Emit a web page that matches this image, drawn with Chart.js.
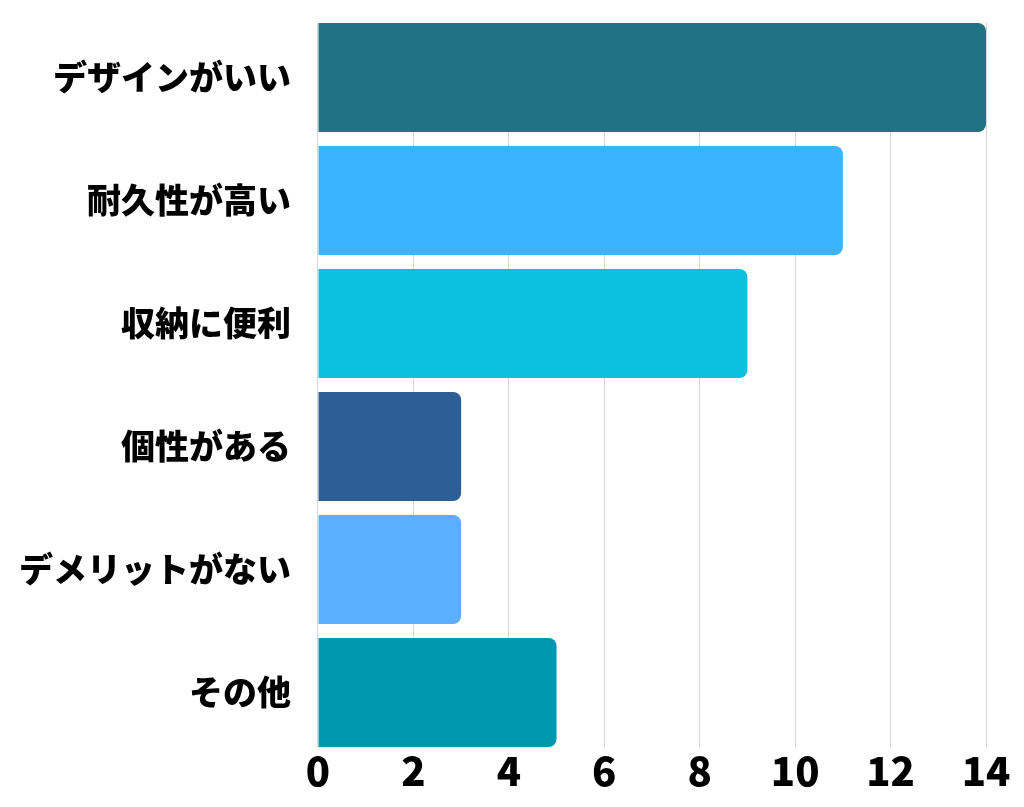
<!DOCTYPE html>
<html>
<head>
<meta charset="utf-8">
<script src="https://cdn.jsdelivr.net/npm/chart.js@4/dist/chart.umd.min.js"></script>
<style>
  html, body { margin: 0; padding: 0; background: #fff; }
  #wrap { width: 1024px; height: 807px; }
</style>
</head>
<body>
<div id="wrap"><canvas id="reasons"></canvas></div>
<script>
var categories = ["デザインがいい", "耐久性が高い", "収納に便利", "個性がある", "デメリットがない", "その他"];
var counts = [14, 11, 9, 3, 3, 5];
var barColors = ["#1f7383", "#3bb3ff", "#0ec0e0", "#2d5f96", "#5caeff", "#0097b1"];
var xTicks = [0, 2, 4, 6, 8, 10, 12, 14];

// bars fill the whole plot height: no half gap above the first / below the last bar
var barShare = 0.886;

var points = counts.map(function (c, i) { return { x: c, y: i }; });

var ctx = document.getElementById("reasons");
new Chart(ctx, {
    type: "bar",
    data: {
        datasets: [
            {
                data: points,
                backgroundColor: barColors,
                borderRadius: { topRight: 8, bottomRight: 8 },
                borderSkipped: false,
                barPercentage: barShare,
                categoryPercentage: 1,
            },
        ],
    },
    options: {
        indexAxis: "y",
        responsive: true,
        maintainAspectRatio: false,
        animation: false,
        layout: { padding: { top: 23, right: 38, bottom: 12, left: 0 } },
        plugins: {
            legend: { display: false },
            tooltip: { enabled: false },
        },
        scales: {
            x: {
                type: "linear",
                min: xTicks[0],
                max: xTicks[xTicks.length - 1],
                afterBuildTicks: function (axis) {
                    axis.ticks = xTicks.map(function (v) { return { value: v }; });
                },
                grid: { color: "#d6d6d6", lineWidth: 1, drawTicks: false },
                border: { display: false },
                ticks: {
                    padding: 0,
                    color: "#000",
                    font: { family: "'Noto Sans CJK JP'", size: 40, weight: "900" },
                },
            },
            y: {
                type: "linear",
                bounds: "data",
                offset: false,
                reverse: true,
                min: -barShare / 2,
                max: categories.length - 1 + barShare / 2,
                afterBuildTicks: function (axis) {
                    axis.ticks = categories.map(function (c, i) { return { value: i }; });
                },
                afterFit: function (axis) {
                    axis.paddingTop = 0;
                    axis.paddingBottom = 0;
                },
                grid: { display: false },
                border: { display: false },
                ticks: {
                    padding: 19,
                    color: "#000",
                    font: { family: "'Noto Sans CJK JP'", size: 34, weight: "900" },
                    callback: function (value) { return categories[value]; },
                },
            },
        },
    },
});
</script>
</body>
</html>
